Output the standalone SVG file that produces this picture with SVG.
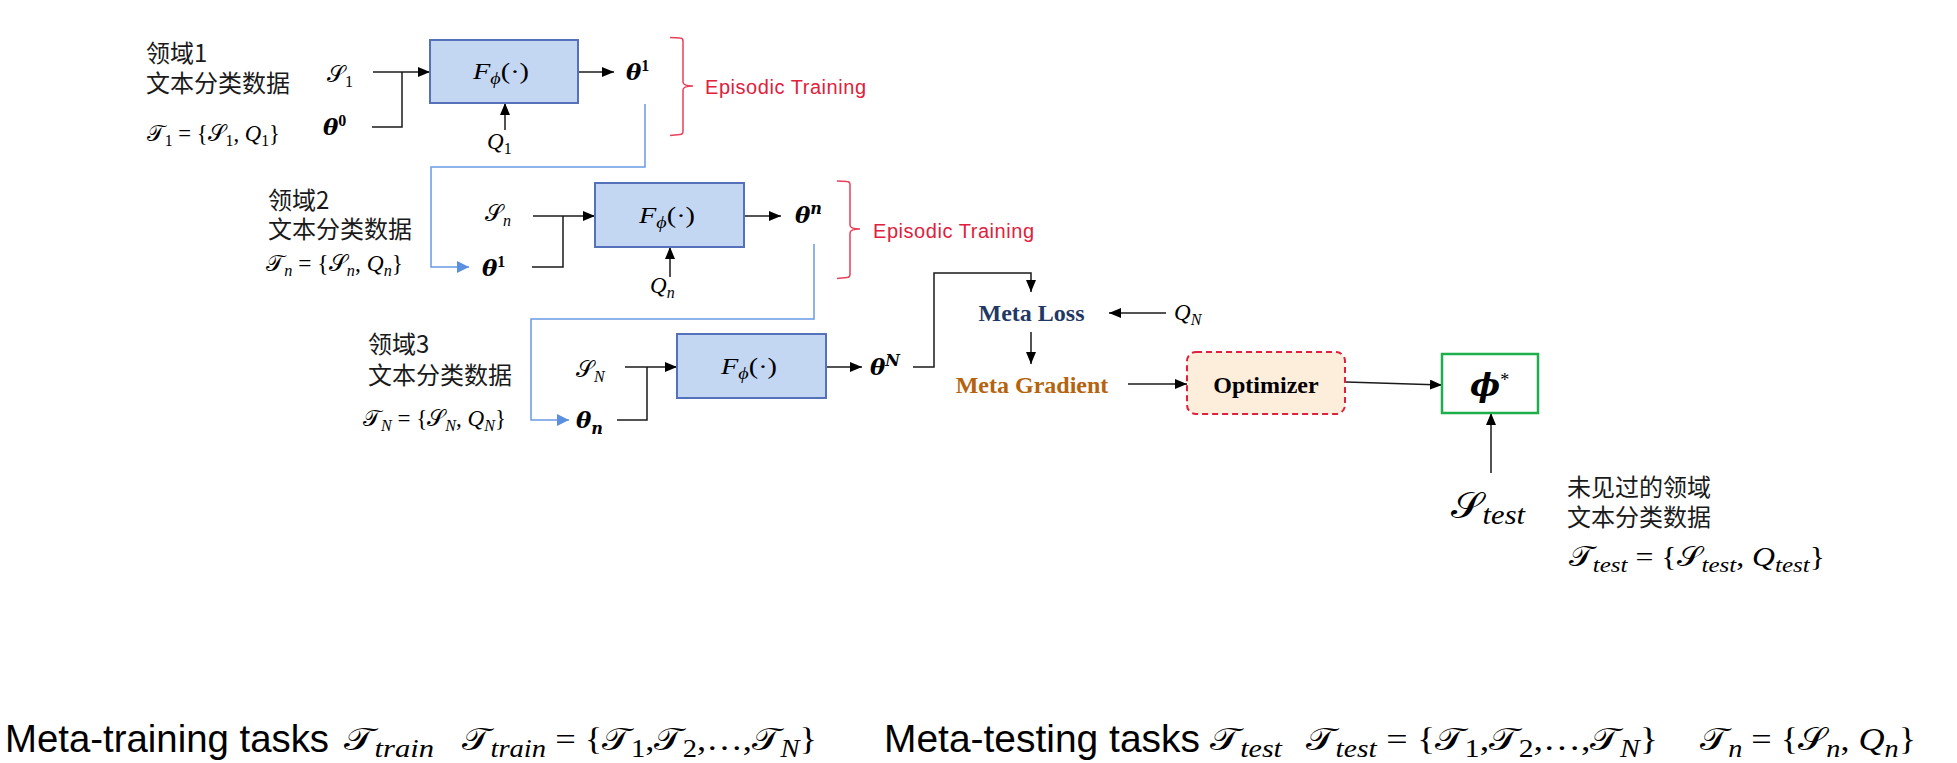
<svg xmlns="http://www.w3.org/2000/svg" width="1957" height="763" viewBox="0 0 1957 763">
<defs>
<style>
.cjk{font-family:"Noto Sans CJK SC","Noto Sans",sans-serif;font-size:24px;fill:#1a1a1a}
.m{font-family:"Liberation Serif","DejaVu Serif",serif;font-size:23px;fill:#000}
.th{font-family:"DejaVu Serif","Liberation Serif",serif;font-weight:bold;font-style:italic}
.i{font-style:italic}
.b{font-weight:bold}
.sb{font-size:16px}
.box{fill:#C3D6F2;stroke:#5571B9;stroke-width:2}
.ln{fill:none;stroke:#1a1a1a;stroke-width:1.5}
.bl{fill:none;stroke:#6A9BE5;stroke-width:1.5}
.br{fill:none;stroke:#E8415A;stroke-width:1.5}
.ep{font-family:"Liberation Sans",Arial,sans-serif;font-size:20px;fill:#E0203C}
.mt{font-family:"Liberation Serif",serif;font-size:24px;font-weight:bold}
.big{font-family:"Liberation Sans",Arial,sans-serif;font-size:39px;fill:#000}
.bm{font-family:"Liberation Serif","DejaVu Serif",serif;font-size:32px;fill:#000}
.bs{font-size:25px;font-style:italic}
.bn{font-size:25px}
</style>
<marker id="ah" markerUnits="userSpaceOnUse" markerWidth="12" markerHeight="10" refX="12" refY="5" orient="auto"><path d="M0,0L12,5L0,10z" fill="#000"/></marker>
<marker id="ahb" markerUnits="userSpaceOnUse" markerWidth="12" markerHeight="12" refX="12" refY="6" orient="auto"><path d="M0,0L12,6L0,12z" fill="#5B8FE0"/></marker>
</defs>
<rect width="1957" height="763" fill="#fff"/>

<g id="connectors">
<path class="ln" d="M373,72H430" marker-end="url(#ah)"/>
<path class="ln" d="M372,127H402V72"/>
<path class="ln" d="M578,72H614" marker-end="url(#ah)"/>
<path class="ln" d="M505,130V103" marker-end="url(#ah)"/>
<path class="bl" d="M645,104V167H431V267H469" marker-end="url(#ahb)"/>
<path class="ln" d="M533,216H595" marker-end="url(#ah)"/>
<path class="ln" d="M532,267H563V216"/>
<path class="ln" d="M744,216H781" marker-end="url(#ah)"/>
<path class="ln" d="M670,277V247" marker-end="url(#ah)"/>
<path class="bl" d="M814,244V319H531V420H569" marker-end="url(#ahb)"/>
<path class="ln" d="M625,367H677" marker-end="url(#ah)"/>
<path class="ln" d="M617,420H647V367"/>
<path class="ln" d="M826,367H862" marker-end="url(#ah)"/>
<path class="ln" d="M913,367H934V273H1031V292" marker-end="url(#ah)"/>
<path class="ln" d="M1166,313H1109" marker-end="url(#ah)"/>
<path class="ln" d="M1031,332V364" marker-end="url(#ah)"/>
<path class="ln" d="M1128,384H1187" marker-end="url(#ah)"/>
<path class="ln" d="M1346,382L1442,385" marker-end="url(#ah)"/>
<path class="ln" d="M1491,473V413" marker-end="url(#ah)"/>
</g>

<g id="domain1">
<text class="cjk" x="146" y="62">领域1<tspan x="146" dy="30">文本分类数据</tspan></text>
<text class="m" x="147" y="141" textLength="133" lengthAdjust="spacingAndGlyphs">𝒯<tspan class="sb" dy="5">1</tspan><tspan dy="-5"> = {𝒮</tspan><tspan class="sb" dy="5">1</tspan><tspan dy="-5">, </tspan><tspan class="i">Q</tspan><tspan class="sb" dy="5">1</tspan><tspan dy="-5">}</tspan></text>
<text class="m" x="327" y="82">𝒮<tspan class="sb" dy="5">1</tspan></text>
<text class="m" x="323" y="135"><tspan class="th">θ</tspan><tspan class="sb b" dy="-9">0</tspan></text>
</g>
<g id="model1">
<rect class="box" x="430" y="40" width="148" height="63"/>
<text class="m" x="473" y="79" textLength="56" lengthAdjust="spacingAndGlyphs" style="font-size:24px"><tspan class="i">F</tspan><tspan class="i sb" dy="5" style="font-size:17px">ϕ</tspan><tspan dy="-5">(·)</tspan></text>
</g>
<g id="q1"><text class="m" x="487" y="149"><tspan class="i">Q</tspan><tspan class="sb" dy="5">1</tspan></text></g>
<g id="theta1"><text class="m" x="626" y="80"><tspan class="th">θ</tspan><tspan class="sb b" dy="-9">1</tspan></text></g>
<g id="episodic1">
<path class="br" d="M670,37.5L680,38Q683,38 683,41V82Q683,86 693,86Q683,86 683,90V131Q683,134.5 680,134.5L670,135.5"/>
<text class="ep" x="705" y="94" textLength="161" lengthAdjust="spacing">Episodic Training</text>
</g>

<g id="domain2">
<text class="cjk" x="268" y="209">领域2<tspan x="268" dy="29">文本分类数据</tspan></text>
<text class="m" x="266" y="271" textLength="137" lengthAdjust="spacingAndGlyphs">𝒯<tspan class="sb i" dy="5">n</tspan><tspan dy="-5"> = {𝒮</tspan><tspan class="sb i" dy="5">n</tspan><tspan dy="-5">, </tspan><tspan class="i">Q</tspan><tspan class="sb i" dy="5">n</tspan><tspan dy="-5">}</tspan></text>
<text class="m" x="485" y="221">𝒮<tspan class="sb i" dy="5">n</tspan></text>
<text class="m" x="482" y="276"><tspan class="th">θ</tspan><tspan class="sb b" dy="-9">1</tspan></text>
</g>
<g id="model2">
<rect class="box" x="595" y="183" width="149" height="64"/>
<text class="m" x="639" y="223" textLength="56" lengthAdjust="spacingAndGlyphs" style="font-size:24px"><tspan class="i">F</tspan><tspan class="i sb" dy="5" style="font-size:17px">ϕ</tspan><tspan dy="-5">(·)</tspan></text>
</g>
<g id="qn"><text class="m" x="650" y="293"><tspan class="i">Q</tspan><tspan class="sb i" dy="5">n</tspan></text></g>
<g id="thetan"><text class="m" x="795" y="223"><tspan class="th">θ</tspan><tspan class="sb th" dy="-9">n</tspan></text></g>
<g id="episodic2">
<path class="br" d="M837,181L847,181.5Q850,181.5 850,185V225Q850,229 860,229Q850,229 850,233V274Q850,277.5 847,277.5L837,278.5"/>
<text class="ep" x="873" y="238" textLength="161" lengthAdjust="spacing">Episodic Training</text>
</g>

<g id="domain3">
<text class="cjk" x="368" y="353">领域3<tspan x="368" dy="31">文本分类数据</tspan></text>
<text class="m" x="363" y="426" textLength="143" lengthAdjust="spacingAndGlyphs">𝒯<tspan class="sb i" dy="5">N</tspan><tspan dy="-5"> = {𝒮</tspan><tspan class="sb i" dy="5">N</tspan><tspan dy="-5">, </tspan><tspan class="i">Q</tspan><tspan class="sb i" dy="5">N</tspan><tspan dy="-5">}</tspan></text>
<text class="m" x="576" y="377">𝒮<tspan class="sb i" dy="5">N</tspan></text>
<text class="m" x="576" y="428"><tspan class="th">θ</tspan><tspan class="sb th" dy="6">n</tspan></text>
</g>
<g id="model3">
<rect class="box" x="677" y="334" width="149" height="64"/>
<text class="m" x="721" y="374" textLength="56" lengthAdjust="spacingAndGlyphs" style="font-size:24px"><tspan class="i">F</tspan><tspan class="i sb" dy="5" style="font-size:17px">ϕ</tspan><tspan dy="-5">(·)</tspan></text>
</g>
<g id="thetaN"><text class="m" x="870" y="375"><tspan class="th">θ</tspan><tspan class="sb th" dy="-9">N</tspan></text></g>

<g id="metaloss"><text class="mt" x="1031.5" y="321" text-anchor="middle" fill="#1F3864">Meta Loss</text></g>
<g id="qN"><text class="m" x="1174" y="320"><tspan class="i">Q</tspan><tspan class="sb i" dy="5">N</tspan></text></g>
<g id="metagradient"><text class="mt" x="1032" y="393" text-anchor="middle" fill="#B4640F">Meta Gradient</text></g>
<g id="optimizer">
<rect x="1187" y="352" width="158" height="62" rx="9" fill="#FDEEDC" stroke="#E0203C" stroke-width="2" stroke-dasharray="6,4"/>
<text class="mt" x="1266" y="393" text-anchor="middle" fill="#000">Optimizer</text>
</g>
<g id="phistar">
<rect x="1442" y="354" width="96" height="59" fill="#fff" stroke="#1DAF4B" stroke-width="2.5"/>
<text class="m" x="1470" y="396" style="font-size:32px"><tspan class="th">ϕ</tspan><tspan dy="-10" style="font-size:18px">*</tspan></text>
</g>
<g id="stest">
<text class="m" x="1451" y="518" textLength="74" lengthAdjust="spacingAndGlyphs" style="font-size:36px">𝒮<tspan class="i" dy="6" style="font-size:27px">test</tspan></text>
</g>
<g id="unseen">
<text class="cjk" x="1567" y="496">未见过的领域<tspan x="1567" dy="30">文本分类数据</tspan></text>
<text class="m" x="1569" y="566" textLength="256" lengthAdjust="spacingAndGlyphs" style="font-size:28px">𝒯<tspan class="i" dy="6" style="font-size:22px">test</tspan><tspan dy="-6"> = {𝒮</tspan><tspan class="i" dy="6" style="font-size:22px">test</tspan><tspan dy="-6">, </tspan><tspan class="i">Q</tspan><tspan class="i" dy="6" style="font-size:22px">test</tspan><tspan dy="-6">}</tspan></text>
</g>

<g id="legend">
<text class="big" x="5" y="752" textLength="324" lengthAdjust="spacingAndGlyphs">Meta-training tasks</text>
<text class="bm" x="344" y="750" textLength="90" lengthAdjust="spacingAndGlyphs">𝒯<tspan class="bs" dy="7">train</tspan></text>
<text class="bm" x="462" y="750" textLength="355" lengthAdjust="spacingAndGlyphs">𝒯<tspan class="bs" dy="7">train</tspan><tspan dy="-7"> = {𝒯</tspan><tspan class="bn" dy="7">1</tspan><tspan dy="-7">,𝒯</tspan><tspan class="bn" dy="7">2</tspan><tspan dy="-7">,…,𝒯</tspan><tspan class="bs" dy="7">N</tspan><tspan dy="-7">}</tspan></text>
<text class="big" x="884" y="752" textLength="316" lengthAdjust="spacingAndGlyphs">Meta-testing tasks</text>
<text class="bm" x="1210" y="750" textLength="72" lengthAdjust="spacingAndGlyphs">𝒯<tspan class="bs" dy="7">test</tspan></text>
<text class="bm" x="1306" y="750" textLength="352" lengthAdjust="spacingAndGlyphs">𝒯<tspan class="bs" dy="7">test</tspan><tspan dy="-7"> = {𝒯</tspan><tspan class="bn" dy="7">1</tspan><tspan dy="-7">,𝒯</tspan><tspan class="bn" dy="7">2</tspan><tspan dy="-7">,…,𝒯</tspan><tspan class="bs" dy="7">N</tspan><tspan dy="-7">}</tspan></text>
<text class="bm" x="1700" y="750" textLength="216" lengthAdjust="spacingAndGlyphs">𝒯<tspan class="bs" dy="7">n</tspan><tspan dy="-7"> = {𝒮</tspan><tspan class="bs" dy="7">n</tspan><tspan dy="-7">, </tspan><tspan class="i">Q</tspan><tspan class="bs" dy="7">n</tspan><tspan dy="-7">}</tspan></text>
</g>
</svg>
